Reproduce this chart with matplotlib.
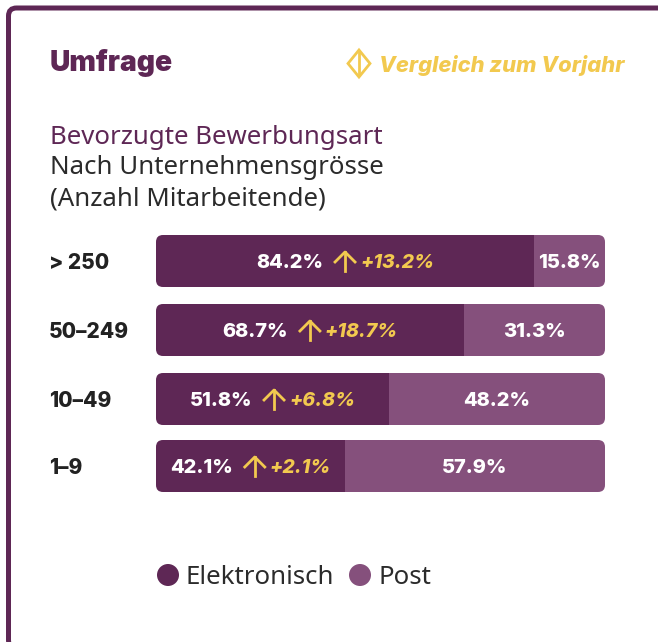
import matplotlib
matplotlib.use("Agg")
import matplotlib.pyplot as plt
from matplotlib.patches import FancyBboxPatch, Circle, Polygon
from matplotlib.transforms import Affine2D

categories = ["> 250", "50–249", "10–49", "1–9"]
elektronisch = [84.2, 68.7, 51.8, 42.1]
post = [15.8, 31.3, 48.2, 57.9]
changes = ["+13.2%", "+18.7%", "+6.8%", "+2.1%"]
legend_labels = ["Elektronisch", "Post"]

W, H = 658, 642
DARK, LIGHT, YEL, INK = "#5e2755", "#85507c", "#f2c94f", "#2b2b2b"
BOLD = "Inter"
BODY = "Noto Sans"
HEAVY = 800

fig = plt.figure(figsize=(W / 100, H / 100), dpi=100, facecolor="white")
px = Affine2D().scale(1 / W, -1 / H).translate(0, 1) + fig.transFigure

fig.add_artist(FancyBboxPatch((8.5, 8), 660, 640, boxstyle="round,pad=0,rounding_size=8",
                              fc="white", ec=DARK, lw=3.6, transform=px, zorder=-1))

row_centers = [261, 330, 399, 466]
BAR_H = 52
X0, X1 = 156, 605
ax = fig.add_axes([X0 / W, 0, (X1 - X0) / W, 1])
ax.set_xlim(0, 100)
ax.set_ylim(H, 0)
ax.axis("off")

def t(x, y, s, **k):
    return fig.text(x / W, 1 - y / H, s, va="center", **k)

t(50, 63, "Umfrage", color=DARK, fontsize=20.3, fontweight="black", family=BOLD)
t(379, 65, "Vergleich zum Vorjahr", color=YEL, fontsize=15.8, fontweight=HEAVY, style="italic", family=BOLD)
fig.add_artist(Polygon([(359, 50), (370, 63.5), (359, 77), (348, 63.5)], closed=True,
                       fc="none", ec=YEL, lw=2, transform=px))
fig.add_artist(plt.Line2D([359, 359], [52, 75], color=YEL, lw=2, transform=px))
t(50, 137, "Bevorzugte Bewerbungsart", color=DARK, fontsize=18.6, family=BODY)
t(50, 168, "Nach Unternehmensgrösse", color=INK, fontsize=18.6, family=BODY)
t(50, 199, "(Anzahl Mitarbeitende)", color=INK, fontsize=18.6, family=BODY)

renderer = fig.canvas.get_renderer()
for yc, cat, e, p, ch in zip(row_centers, categories, elektronisch, post, changes):
    clip = FancyBboxPatch((X0, yc - BAR_H / 2), X1 - X0, BAR_H, boxstyle="round,pad=0,rounding_size=7",
                          fc="none", ec="none", transform=px)
    fig.add_artist(clip)
    b1 = ax.barh(yc, e, height=BAR_H, color=DARK, lw=0)[0]
    b2 = ax.barh(yc, p, left=e, height=BAR_H, color=LIGHT, lw=0)[0]
    b1.set_clip_path(clip)
    b2.set_clip_path(clip)

    t(49, yc + 2, cat, color="#222222", fontsize=15, fontweight=HEAVY, family=BOLD)
    # Centred group: value, arrow, change
    t1 = ax.text(0, yc + 2, f"{e}%", color="white", fontsize=14.4, fontweight=HEAVY, family=BOLD, va="center")
    t2 = ax.text(0, yc + 2, ch, color=YEL, fontsize=14, fontweight=HEAVY, style="italic", family=BOLD, va="center")
    w1 = t1.get_window_extent(renderer).width
    w2 = t2.get_window_extent(renderer).width
    gap1, arr, gap2 = 11, 22, 4
    total = w1 + gap1 + arr + gap2 + w2
    start = X0 + (X1 - X0) * (e / 100) / 2 - total / 2
    to_data = lambda v: (v - X0) / (X1 - X0) * 100
    t1.set_x(to_data(start))
    t2.set_x(to_data(start + w1 + gap1 + arr + gap2))
    ax_ = start + w1 + gap1 + arr / 2
    fig.add_artist(plt.Line2D([ax_, ax_], [yc - 9, yc + 10], color=YEL, lw=2, transform=px))
    fig.add_artist(plt.Line2D([ax_ - 10, ax_, ax_ + 10], [yc + 1, yc - 9, yc + 1], color=YEL, lw=2, transform=px))
    ax.text(e + p / 2, yc + 2, f"{p}%", color="white", fontsize=14.4, fontweight=HEAVY, family=BOLD, ha="center", va="center")

for cx, col, tx, lab in zip([168, 360], [DARK, LIGHT], [186, 378], legend_labels):
    fig.add_artist(Circle((cx, 575), 11, fc=col, ec="none", transform=px))
    t(tx, 577, lab, color=INK, fontsize=18.6, family=BODY)

fig.savefig("out.png", dpi=100, facecolor="white")
